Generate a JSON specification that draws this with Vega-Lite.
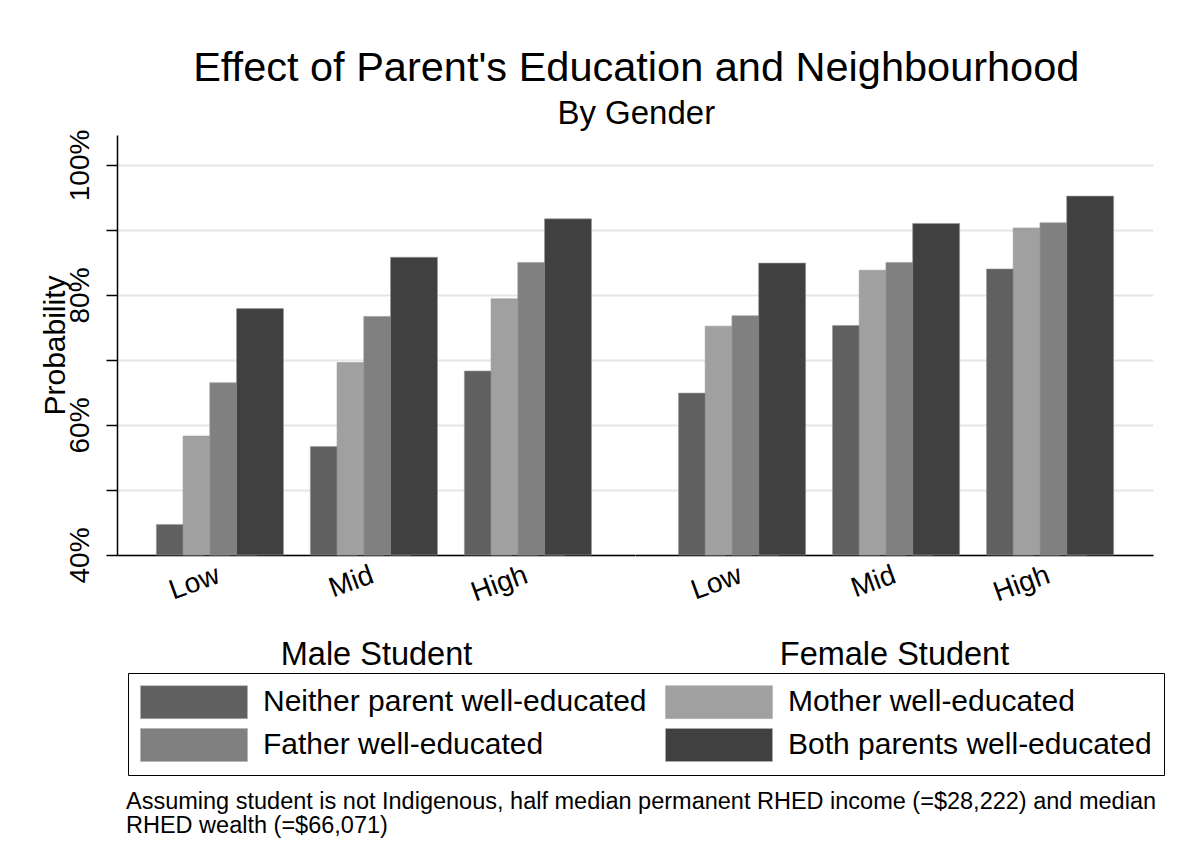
{
  "$schema": "https://vega.github.io/schema/vega-lite/v6.json",
  "background": "white",
  "padding": {"left": 40, "top": 47, "right": 5, "bottom": 5},
  "config": {
    "font": "Liberation Sans",
    "view": {"stroke": null},
    "axis": {"labelColor": "black", "titleColor": "black", "titleFontWeight": "normal"}
  },
  "title": {
    "text": "Effect of Parent's Education and Neighbourhood",
    "subtitle": "By Gender",
    "fontSize": 41.5,
    "subtitleFontSize": 33,
    "fontWeight": "normal",
    "color": "black",
    "subtitleColor": "black",
    "anchor": "middle",
    "dx": 34,
    "offset": -2,
    "subtitlePadding": 9
  },
  "data": {
    "values": [
      {"gender": "Male Student", "neighbourhood": "Low", "parent": "Neither parent well-educated", "probability": 44.7},
      {"gender": "Male Student", "neighbourhood": "Low", "parent": "Mother well-educated", "probability": 58.3},
      {"gender": "Male Student", "neighbourhood": "Low", "parent": "Father well-educated", "probability": 66.5},
      {"gender": "Male Student", "neighbourhood": "Low", "parent": "Both parents well-educated", "probability": 77.9},
      {"gender": "Male Student", "neighbourhood": "Mid", "parent": "Neither parent well-educated", "probability": 56.7},
      {"gender": "Male Student", "neighbourhood": "Mid", "parent": "Mother well-educated", "probability": 69.6},
      {"gender": "Male Student", "neighbourhood": "Mid", "parent": "Father well-educated", "probability": 76.7},
      {"gender": "Male Student", "neighbourhood": "Mid", "parent": "Both parents well-educated", "probability": 85.8},
      {"gender": "Male Student", "neighbourhood": "High", "parent": "Neither parent well-educated", "probability": 68.3},
      {"gender": "Male Student", "neighbourhood": "High", "parent": "Mother well-educated", "probability": 79.4},
      {"gender": "Male Student", "neighbourhood": "High", "parent": "Father well-educated", "probability": 85.0},
      {"gender": "Male Student", "neighbourhood": "High", "parent": "Both parents well-educated", "probability": 91.7},
      {"gender": "Female Student", "neighbourhood": "Low", "parent": "Neither parent well-educated", "probability": 64.9},
      {"gender": "Female Student", "neighbourhood": "Low", "parent": "Mother well-educated", "probability": 75.2},
      {"gender": "Female Student", "neighbourhood": "Low", "parent": "Father well-educated", "probability": 76.8},
      {"gender": "Female Student", "neighbourhood": "Low", "parent": "Both parents well-educated", "probability": 84.9},
      {"gender": "Female Student", "neighbourhood": "Mid", "parent": "Neither parent well-educated", "probability": 75.3},
      {"gender": "Female Student", "neighbourhood": "Mid", "parent": "Mother well-educated", "probability": 83.8},
      {"gender": "Female Student", "neighbourhood": "Mid", "parent": "Father well-educated", "probability": 85.0},
      {"gender": "Female Student", "neighbourhood": "Mid", "parent": "Both parents well-educated", "probability": 91.0},
      {"gender": "Female Student", "neighbourhood": "High", "parent": "Neither parent well-educated", "probability": 84.0},
      {"gender": "Female Student", "neighbourhood": "High", "parent": "Mother well-educated", "probability": 90.3},
      {"gender": "Female Student", "neighbourhood": "High", "parent": "Father well-educated", "probability": 91.1},
      {"gender": "Female Student", "neighbourhood": "High", "parent": "Both parents well-educated", "probability": 95.2}
    ]
  },
  "spacing": 0,
  "bounds": "flush",
  "resolve": {"scale": {"color": "shared"}},
  "hconcat": [
    {
      "width": 518,
      "height": 420,
      "transform": [{"filter": "datum.gender == 'Male Student'"}],
      "title": {
        "text": ["Assuming student is not Indigenous, half median permanent RHED income (=$28,222) and median", "RHED wealth (=$66,071)"],
        "orient": "bottom",
        "anchor": "start",
        "frame": "group",
        "fontSize": 23.5,
        "fontWeight": "normal",
        "color": "black",
        "lineHeight": 24,
        "offset": 119,
        "dx": 9
      },
      "mark": {"type": "bar", "width": 47, "stroke": "#9a9a9a", "strokeWidth": 0.6},
      "encoding": {
        "x": {
          "field": "neighbourhood", "type": "nominal", "sort": ["Low", "Mid", "High"],
          "scale": {"paddingInner": 0.175, "paddingOuter": 0.2693, "align": 0.475},
          "axis": {"title": "Male Student", "titleFontSize": 32.5, "titlePadding": 31, "labelAngle": -20, "labelFontSize": 28, "labelAlign": "right", "labelBaseline": "top", "labelPadding": 6, "labelOffset": -6, "ticks": false, "domainColor": "black", "domainWidth": 1.5}
        },
        "xOffset": {
          "field": "parent", "type": "nominal",
          "sort": ["Neither parent well-educated", "Mother well-educated", "Father well-educated", "Both parents well-educated"],
          "scale": {"paddingInner": 0, "paddingOuter": 0.378}
        },
        "y": {
          "field": "probability", "type": "quantitative",
          "scale": {"domain": [40, 104.6], "nice": false, "zero": false},
          "axis": {"title": "Probability", "titleFontSize": 30, "titlePadding": -4, "values": [40, 50, 60, 70, 80, 90, 100], "labelExpr": "datum.value % 20 == 0 ? datum.value + '%' : ''", "labelAngle": -90, "labelFontSize": 28, "labelPadding": 12, "labelFlush": false, "labelOverlap": false, "tickSize": 11, "tickColor": "black", "tickWidth": 1.5, "domainColor": "black", "domainWidth": 1.5, "grid": true, "gridColor": "#e6e6e6", "gridWidth": 2}
        },
        "y2": {"datum": 40},
        "color": {
          "field": "parent", "type": "nominal",
          "scale": {"domain": ["Neither parent well-educated", "Mother well-educated", "Father well-educated", "Both parents well-educated"], "range": ["#606060", "#a0a0a0", "#808080", "#404040"]},
          "legend": {"orient": "none", "legendX": 11, "legendY": 538, "direction": "horizontal", "columns": 2, "title": null, "symbolType": "M-1,-1H5.485V1H-1Z", "symbolSize": 1089, "symbolStrokeColor": "#b0b0b0", "symbolStrokeWidth": 0.6, "symbolOpacity": 1, "labelFontSize": 30, "labelOffset": 89, "labelLimit": 0, "labelColor": "black", "columnPadding": 17, "rowPadding": 7, "padding": 12, "strokeColor": "black"}
        }
      }
    },
    {
      "width": 518,
      "height": 420,
      "transform": [{"filter": "datum.gender == 'Female Student'"}],
      "mark": {"type": "bar", "width": 47, "stroke": "#9a9a9a", "strokeWidth": 0.6},
      "encoding": {
        "x": {
          "field": "neighbourhood", "type": "nominal", "sort": ["Low", "Mid", "High"],
          "scale": {"paddingInner": 0.175, "paddingOuter": 0.2693, "align": 0.525},
          "axis": {"title": "Female Student", "titleFontSize": 32.5, "titlePadding": 31, "labelAngle": -20, "labelFontSize": 28, "labelAlign": "right", "labelBaseline": "top", "labelPadding": 6, "labelOffset": -6, "ticks": false, "domainColor": "black", "domainWidth": 1.5}
        },
        "xOffset": {
          "field": "parent", "type": "nominal",
          "sort": ["Neither parent well-educated", "Mother well-educated", "Father well-educated", "Both parents well-educated"],
          "scale": {"paddingInner": 0, "paddingOuter": 0.378}
        },
        "y": {
          "field": "probability", "type": "quantitative",
          "scale": {"domain": [40, 104.6], "nice": false, "zero": false},
          "axis": {"title": null, "values": [40, 50, 60, 70, 80, 90, 100], "labels": false, "ticks": false, "domain": false, "grid": true, "gridColor": "#e6e6e6", "gridWidth": 2}
        },
        "y2": {"datum": 40},
        "color": {
          "field": "parent", "type": "nominal",
          "scale": {"domain": ["Neither parent well-educated", "Mother well-educated", "Father well-educated", "Both parents well-educated"], "range": ["#606060", "#a0a0a0", "#808080", "#404040"]},
          "legend": {"orient": "none", "legendX": 11, "legendY": 538, "direction": "horizontal", "columns": 2, "title": null, "symbolType": "M-1,-1H5.485V1H-1Z", "symbolSize": 1089, "symbolStrokeColor": "#b0b0b0", "symbolStrokeWidth": 0.6, "symbolOpacity": 1, "labelFontSize": 30, "labelOffset": 89, "labelLimit": 0, "labelColor": "black", "columnPadding": 17, "rowPadding": 7, "padding": 12, "strokeColor": "black"}
        }
      }
    }
  ]
}
